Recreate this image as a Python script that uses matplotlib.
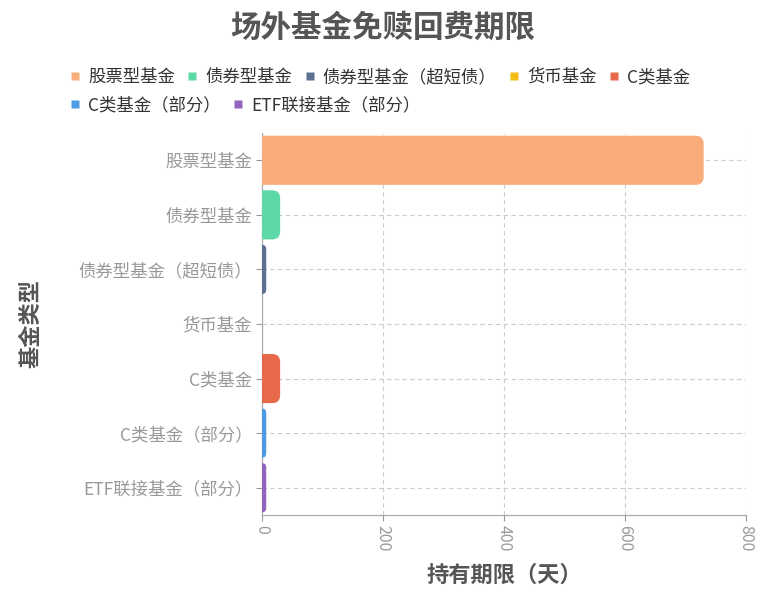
import matplotlib
matplotlib.use('Agg')
import matplotlib.pyplot as plt
from matplotlib.patches import FancyBboxPatch
from matplotlib.lines import Line2D

plt.rcParams['font.family'] = ['Noto Sans CJK SC', 'DejaVu Sans']

# data
categories = ['股票型基金', '债券型基金', '债券型基金（超短债）', '货币基金',
              'C类基金', 'C类基金（部分）', 'ETF联接基金（部分）']
days = [730, 30, 7, 0, 30, 7, 7]
colors = ['#F8AD7B', '#5DD9A8', '#5D7092', '#F6BD16', '#E8684A', '#4D9BE3', '#9463C0']
xticks = [0, 200, 400, 600, 800]

W, H = 766, 612
fig = plt.figure(figsize=(W/100, H/100), dpi=100)

# axes box in pixels: left 262, right 746, top 133, bottom 515
ax_l, ax_r, ax_t, ax_b = 262, 746, 133, 515
ax = fig.add_axes([ax_l/W, 1-ax_b/H, (ax_r-ax_l)/W, (ax_b-ax_t)/H])
ax.set_xlim(0, 800)
ax.set_ylim(len(categories)-0.5, -0.5)

# units per pixel, used to keep the corner rounding round
ux = 800/(ax_r-ax_l)
uy = len(categories)/(ax_b-ax_t)
aspect = uy/ux
R = 8*ux
bar_h = 0.9

for i, (v, c) in enumerate(zip(days, colors)):
    if v <= 0:
        continue
    r = min(R, v)
    # start left of 0 so only the right corners show (axes clip the rest)
    box = FancyBboxPatch((-r, i-bar_h/2), v+r, bar_h,
                         boxstyle=f"round,pad=0,rounding_size={r}",
                         mutation_aspect=aspect, fc=c, ec='none', zorder=3)
    ax.add_patch(box)

ax.set_yticks(range(len(categories)))
ax.set_yticklabels(categories)
ax.set_xticks(xticks)
ax.set_xticklabels([str(t) for t in xticks], rotation=-90)

ax.tick_params(axis='y', colors='#999999', labelsize=12.5, length=4, width=0.8, pad=3)
ax.tick_params(axis='x', colors='#999999', labelsize=11.5, length=4, width=0.8, pad=3)

ax.grid(True, linestyle=(0, (4, 3)), color='#cccccc', linewidth=0.8)
ax.set_axisbelow(True)

for s in ['top', 'right']:
    ax.spines[s].set_visible(False)
for s in ['left', 'bottom']:
    ax.spines[s].set_color('#aaaaaa')
    ax.spines[s].set_linewidth(0.9)

ax.set_xlabel('持有期限（天）', fontsize=16, fontweight='bold', color='#555555')
ax.xaxis.set_label_coords(0.5, -(564-ax_b)/(ax_b-ax_t))
ax.set_ylabel('基金类型', fontsize=16, fontweight='bold', color='#555555')
ax.yaxis.set_label_coords((42-ax_l)/(ax_r-ax_l), 0.5)

fig.text(0.5, 1-28/H, '场外基金免赎回费期限', ha='center', va='center',
         fontsize=22, fontweight='bold', color='#555555')

handles = [Line2D([], [], marker='s', linestyle='none', markersize=6,
                  markerfacecolor=c, markeredgecolor='none', label=n)
           for n, c in zip(categories, colors)]
leg_kw = dict(frameon=False, loc='center left', fontsize=12.5, borderpad=0,
              borderaxespad=0, handlelength=0.6, handletextpad=0.45,
              columnspacing=0.7, labelcolor='#333333')
fig.legend(handles=handles[:5], ncol=5, bbox_to_anchor=(70/W, 1-77/H), **leg_kw)
fig.legend(handles=handles[5:], ncol=2, bbox_to_anchor=(70/W, 1-105/H), **leg_kw)

plt.savefig('out.png', dpi=100)
